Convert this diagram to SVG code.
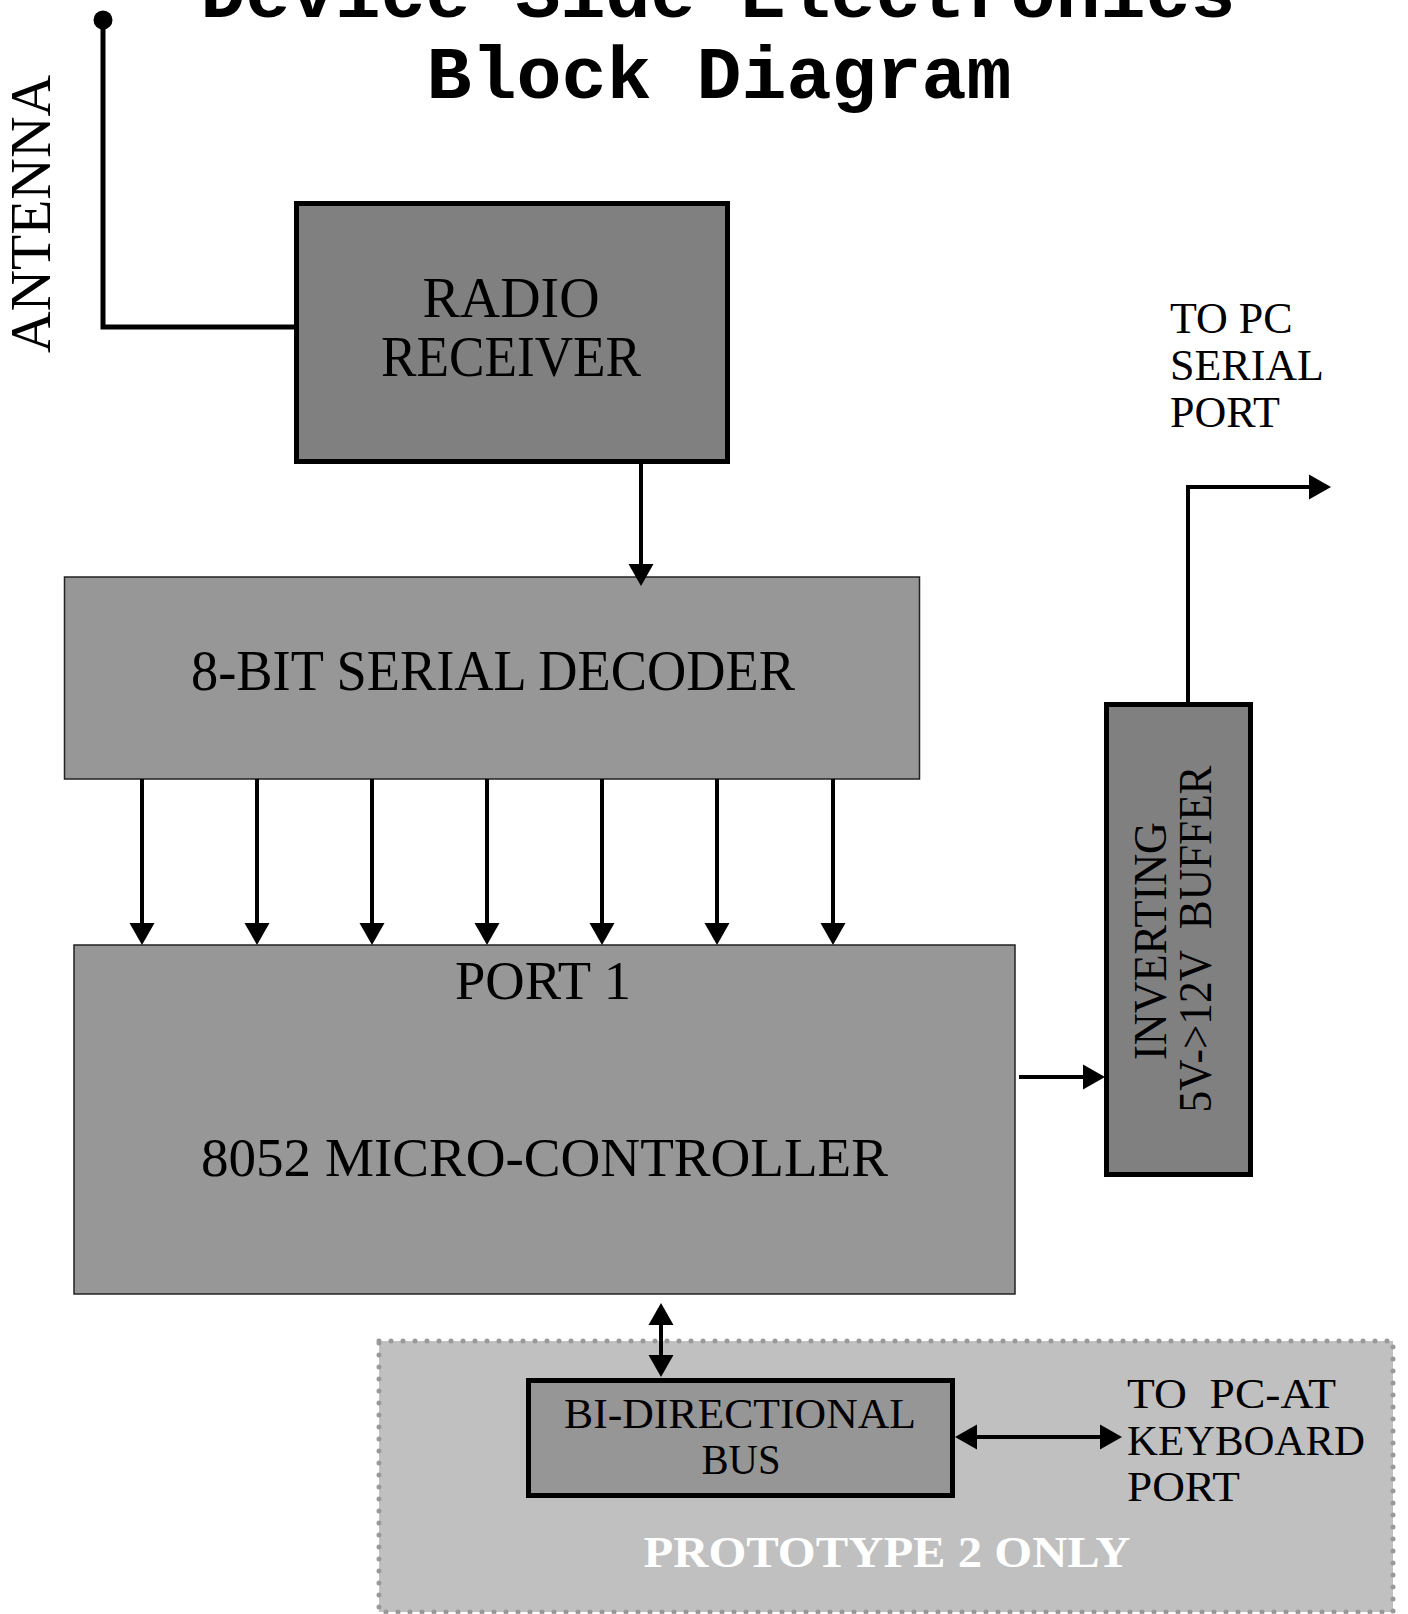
<svg xmlns="http://www.w3.org/2000/svg" width="1408" height="1614" viewBox="0 0 1408 1614">
<style>
.t{font-family:"Liberation Serif","Times New Roman",serif;fill:#000;white-space:pre}
.title{font-family:"Liberation Mono","Courier New",monospace;font-weight:bold;font-size:75px;fill:#000}
.c{stroke:#000;stroke-width:4;fill:none}
.thick{stroke:#000;stroke-width:5;fill:none}
</style>
<defs>
<marker id="ah" markerUnits="userSpaceOnUse" viewBox="0 -13 24 26" markerWidth="24" markerHeight="26" refX="0" refY="0" orient="auto-start-reverse">
<path d="M0,-12.5 L22,0 L0,12.5 z" fill="#000"/>
</marker>
</defs>
<rect width="1408" height="1614" fill="#fff"/>
<g id="title">
<text class="title" x="718" y="17" text-anchor="middle">Device Side Electronics</text>
<text class="title" x="719" y="98" text-anchor="middle">Block Diagram</text>
</g>
<g id="prototype2">
<rect x="379" y="1341" width="1014" height="271" fill="#c0c0c0" stroke="#999" stroke-width="5" stroke-dasharray="0 12" stroke-linecap="round"/>
<text class="t" x="887" y="1567" text-anchor="middle" font-size="45" font-weight="bold" style="fill:#fff" textLength="487" lengthAdjust="spacingAndGlyphs">PROTOTYPE 2 ONLY</text>
</g>
<g id="antenna">
<circle cx="103" cy="20" r="9.5" fill="#000"/>
<text class="t" transform="translate(50,214) rotate(-90)" text-anchor="middle" font-size="56" textLength="278" lengthAdjust="spacingAndGlyphs">ANTENNA</text>
</g>
<g id="radio">
<rect x="296.5" y="203.5" width="431" height="258" fill="#808080" stroke="#000" stroke-width="5"/>
<text class="t" x="511" y="317" text-anchor="middle" font-size="56" textLength="177" lengthAdjust="spacingAndGlyphs">RADIO</text>
<text class="t" x="511" y="376" text-anchor="middle" font-size="56" textLength="260" lengthAdjust="spacingAndGlyphs">RECEIVER</text>
</g>
<g id="decoder">
<rect x="64.5" y="577" width="855" height="202" fill="#979797" stroke="#222" stroke-width="1.5"/>
<text class="t" x="493" y="690" text-anchor="middle" font-size="56" textLength="604" lengthAdjust="spacingAndGlyphs">8-BIT SERIAL DECODER</text>
</g>
<g id="mcu">
<rect x="74" y="945" width="941" height="349" fill="#979797" stroke="#222" stroke-width="1.5"/>
<text class="t" x="543" y="999" text-anchor="middle" font-size="54" textLength="176" lengthAdjust="spacingAndGlyphs">PORT 1</text>
<text class="t" x="544.5" y="1176" text-anchor="middle" font-size="54" textLength="687" lengthAdjust="spacingAndGlyphs">8052 MICRO-CONTROLLER</text>
</g>
<g id="buffer">
<rect x="1106.5" y="704.5" width="144" height="470" fill="#808080" stroke="#000" stroke-width="5"/>
<text class="t" transform="translate(1166,941) rotate(-90)" text-anchor="middle" font-size="47" textLength="238" lengthAdjust="spacingAndGlyphs">INVERTING</text>
<text class="t" transform="translate(1211,939) rotate(-90)" text-anchor="middle" font-size="47" textLength="347" lengthAdjust="spacingAndGlyphs">5V-&gt;12V  BUFFER</text>
</g>
<g id="pcserial">
<text class="t" x="1170" y="333" font-size="44">TO PC</text>
<text class="t" x="1170" y="380" font-size="44">SERIAL</text>
<text class="t" x="1170" y="427" font-size="44">PORT</text>
</g>
<g id="bus">
<rect x="528.5" y="1380.5" width="424" height="115" fill="#969696" stroke="#000" stroke-width="5"/>
<text class="t" x="740" y="1428" text-anchor="middle" font-size="43" textLength="352" lengthAdjust="spacingAndGlyphs">BI-DIRECTIONAL</text>
<text class="t" x="741" y="1474" text-anchor="middle" font-size="43" textLength="79" lengthAdjust="spacingAndGlyphs">BUS</text>
</g>
<g id="keyboard">
<text class="t" x="1127" y="1408" font-size="43" textLength="209" lengthAdjust="spacingAndGlyphs">TO  PC-AT</text>
<text class="t" x="1127" y="1455" font-size="43" textLength="238" lengthAdjust="spacingAndGlyphs">KEYBOARD</text>
<text class="t" x="1127" y="1501" font-size="43" textLength="113" lengthAdjust="spacingAndGlyphs">PORT</text>
</g>
<g id="connectors">
<path class="thick" d="M103,20 V327 H294"/>
<line class="c" x1="641" y1="464" x2="641" y2="564" marker-end="url(#ah)"/>
<line class="c" x1="142" y1="779" x2="142" y2="923" marker-end="url(#ah)"/>
<line class="c" x1="257" y1="779" x2="257" y2="923" marker-end="url(#ah)"/>
<line class="c" x1="372" y1="779" x2="372" y2="923" marker-end="url(#ah)"/>
<line class="c" x1="487" y1="779" x2="487" y2="923" marker-end="url(#ah)"/>
<line class="c" x1="602" y1="779" x2="602" y2="923" marker-end="url(#ah)"/>
<line class="c" x1="717" y1="779" x2="717" y2="923" marker-end="url(#ah)"/>
<line class="c" x1="833" y1="779" x2="833" y2="923" marker-end="url(#ah)"/>
<line class="c" x1="1019" y1="1077" x2="1083" y2="1077" marker-end="url(#ah)"/>
<path class="c" d="M1188,703 V487 H1309" stroke-width="3.5" marker-end="url(#ah)"/>
<line class="c" x1="661" y1="1325" x2="661" y2="1355" marker-start="url(#ah)" marker-end="url(#ah)"/>
<line class="c" x1="977" y1="1437" x2="1100" y2="1437" marker-start="url(#ah)" marker-end="url(#ah)"/>
</g>
</svg>
